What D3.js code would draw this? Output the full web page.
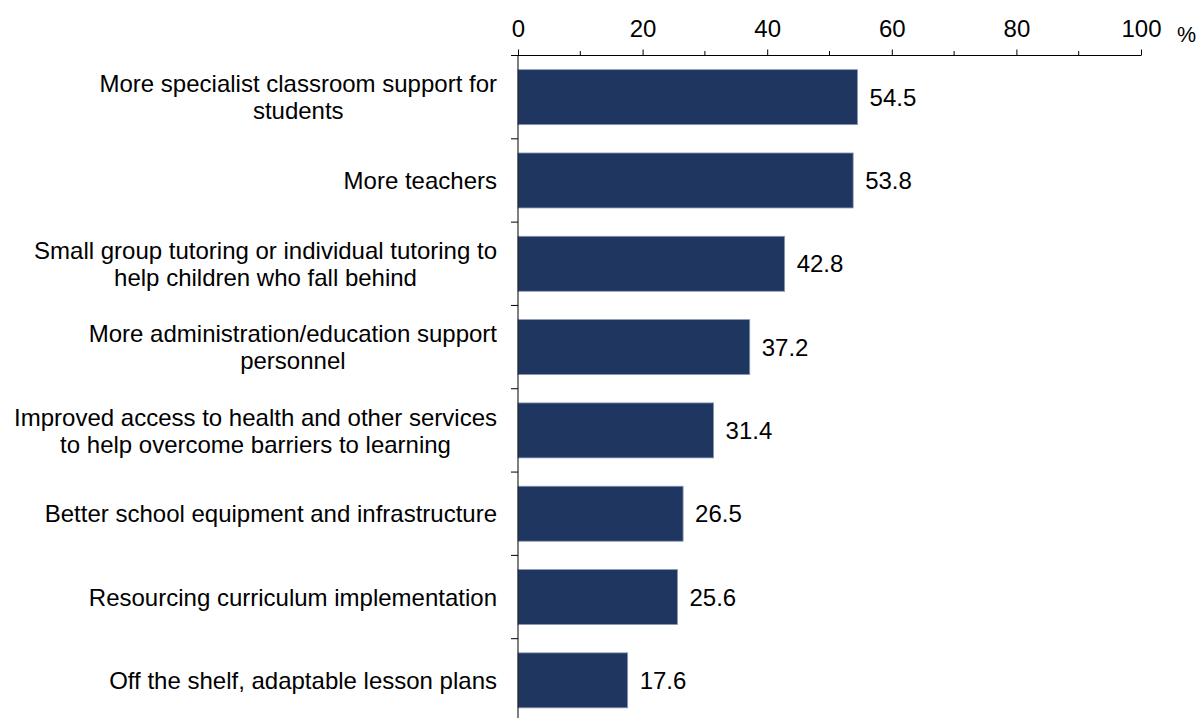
<!DOCTYPE html>
<html>
<head>
<meta charset="utf-8">
<script src="https://cdn.jsdelivr.net/npm/d3@7"></script>
<style>
  html, body { margin: 0; padding: 0; background: #fff; }
  svg { display: block; }
  text { font-family: "Liberation Sans", Arial, sans-serif; fill: #000; }
</style>
</head>
<body>
<svg id="chart" width="1200" height="718"></svg>
<script>
// Survey responses: share of respondents (%) selecting each support option
const categories = [
  "More specialist classroom support for\nstudents",
  "More teachers",
  "Small group tutoring or individual tutoring to\nhelp children who fall behind",
  "More administration/education support\npersonnel",
  "Improved access to health and other services\nto help overcome barriers to learning",
  "Better school equipment and infrastructure",
  "Resourcing curriculum implementation",
  "Off the shelf, adaptable lesson plans"
];
const values = [54.5, 53.8, 42.8, 37.2, 31.4, 26.5, 25.6, 17.6];
const tickValues = [0, 20, 40, 60, 80, 100];
const minorTickValues = [10, 30, 50, 70, 90];
const unitLabel = "%";

const svg = d3.select("#chart");
const plotLeft = 518, plotRight = 1141, plotTop = 55.5, plotBottom = 722;
const fontSize = 24;
const barColor = "#1f3660";

const x = d3.scaleLinear().domain([0, 100]).range([plotLeft, plotRight]);
const y = d3.scaleBand().domain(categories).range([plotTop, plotBottom]).padding(0);
const barH = y.bandwidth() * 0.66;

// Bars
svg.append("g").selectAll("rect")
  .data(values)
  .join("rect")
  .attr("x", x(0))
  .attr("y", (d, i) => y(categories[i]) + (y.bandwidth() - barH) / 2)
  .attr("width", d => x(d) - x(0))
  .attr("height", barH)
  .attr("fill", barColor)
  .attr("stroke", "#8a9ab8")
  .attr("stroke-width", 0.8);

// Value labels
svg.append("g").selectAll("text")
  .data(values)
  .join("text")
  .attr("x", d => x(d) + 12)
  .attr("y", (d, i) => y(categories[i]) + y.bandwidth() / 2 + fontSize * 0.36)
  .attr("font-size", fontSize)
  .text(d => d.toFixed(1));

// Top axis: labelled major ticks and shorter minor ticks
const axisG = svg.append("g").attr("transform", `translate(0,${plotTop})`);
axisG.call(d3.axisTop(x).tickValues(tickValues).tickSize(6).tickPadding(13).tickSizeOuter(0));
axisG.select(".domain").remove();
axisG.selectAll(".tick line").attr("stroke", "#000");
axisG.selectAll(".tick text")
  .attr("font-size", fontSize)
  .attr("font-family", '"Liberation Sans", Arial, sans-serif')
  .attr("fill", "#000");
axisG.append("g").selectAll("line")
  .data(minorTickValues)
  .join("line")
  .attr("x1", d => x(d)).attr("x2", d => x(d))
  .attr("y1", 0).attr("y2", -4.5)
  .attr("stroke", "#000");
axisG.append("line")
  .attr("x1", plotLeft - 7).attr("x2", plotRight)
  .attr("y1", 0).attr("y2", 0)
  .attr("stroke", "#000");
svg.append("text")
  .attr("x", 1177)
  .attr("y", 42)
  .attr("font-size", 21.5)
  .text(unitLabel);

// Left axis line with ticks between categories
svg.append("line")
  .attr("x1", plotLeft).attr("x2", plotLeft)
  .attr("y1", plotTop).attr("y2", plotBottom)
  .attr("stroke", "#000");
svg.append("g").selectAll("line")
  .data(categories.slice(1))
  .join("line")
  .attr("x1", plotLeft - 7).attr("x2", plotLeft)
  .attr("y1", d => y(d)).attr("y2", d => y(d))
  .attr("stroke", "#000");

// Category labels: multi-line blocks right-aligned, lines centred within block
const labelRight = 497;
const lineGap = 27;
categories.forEach(cat => {
  const lines = cat.split("\n");
  const g = svg.append("g");
  const texts = lines.map(l => g.append("text").attr("font-size", fontSize).text(l));
  const widths = texts.map(t => t.node().getComputedTextLength());
  const maxW = d3.max(widths);
  const cx = labelRight - maxW / 2;
  const cy = y(cat) + y.bandwidth() / 2;
  texts.forEach((t, i) => {
    const off = (i - (lines.length - 1) / 2) * lineGap;
    t.attr("x", cx).attr("text-anchor", "middle")
     .attr("y", cy + off + fontSize * 0.36);
  });
});
</script>
</body>
</html>
